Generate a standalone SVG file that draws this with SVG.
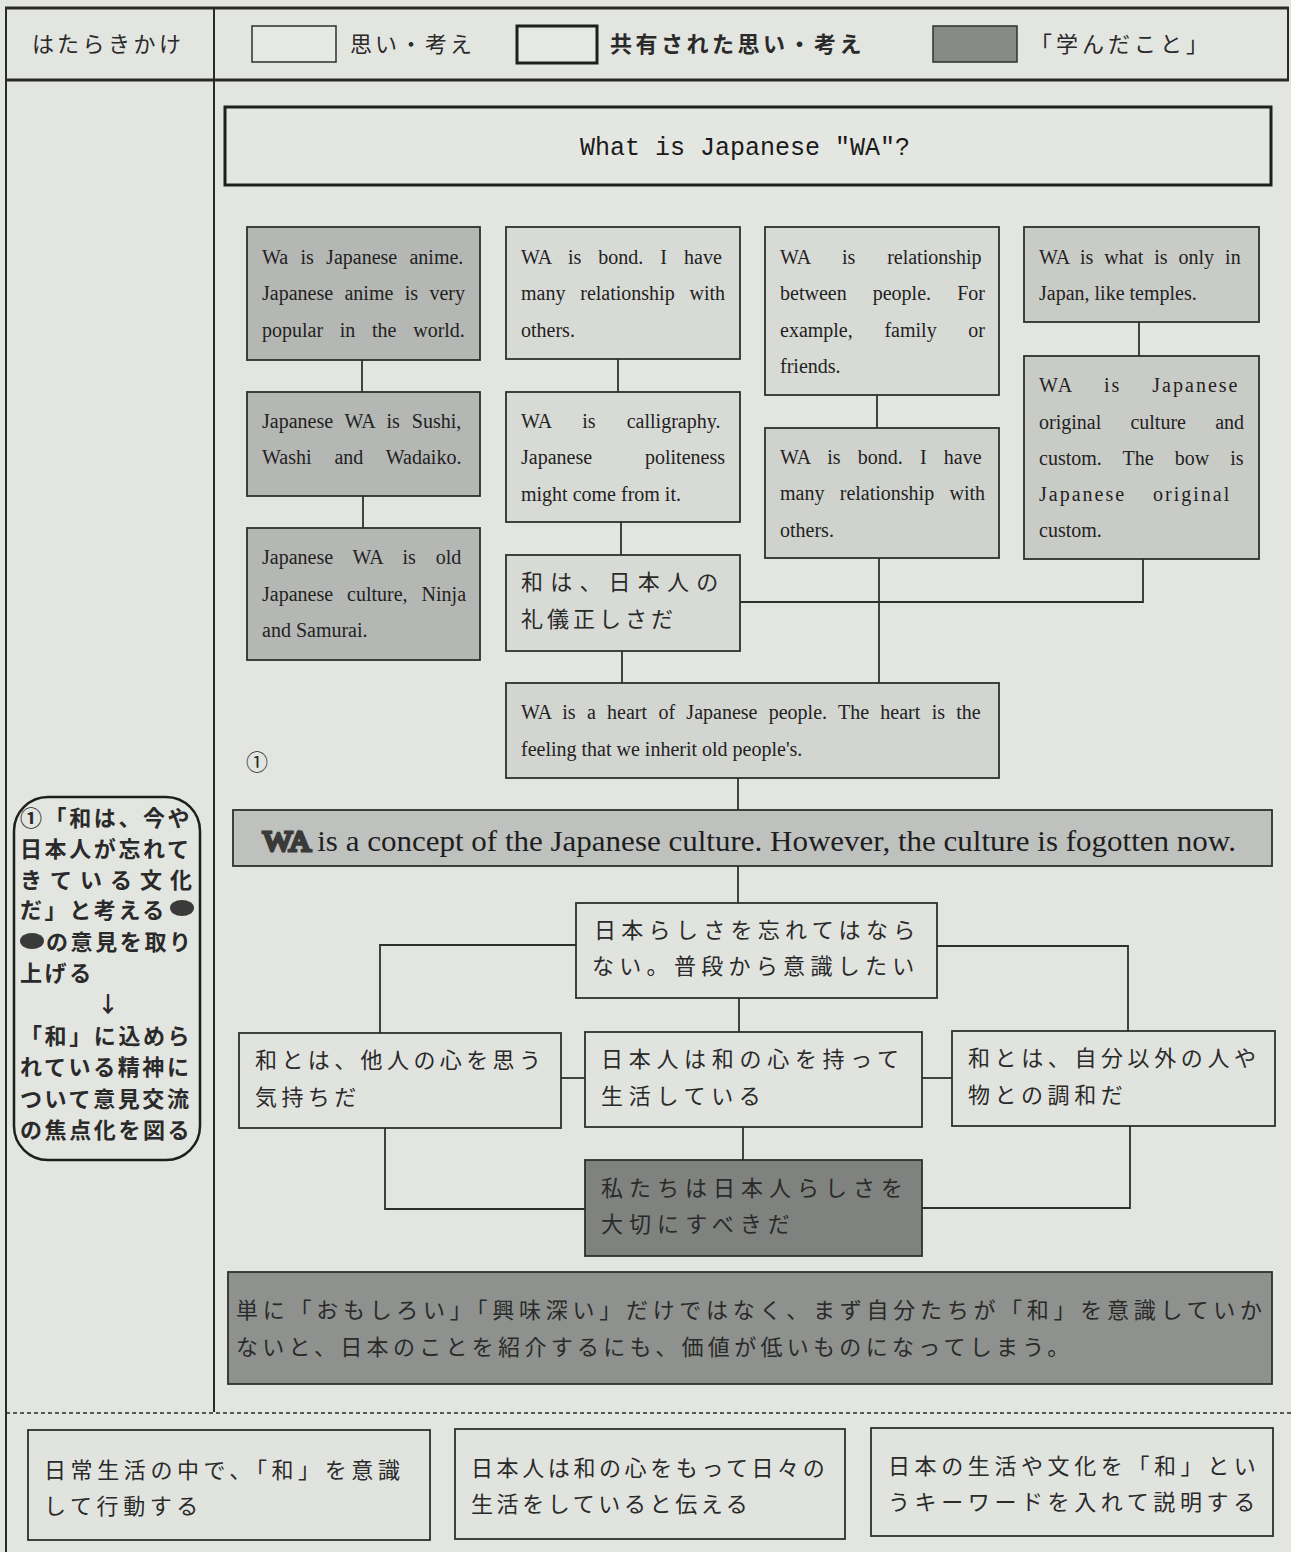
<svg xmlns="http://www.w3.org/2000/svg" width="1291" height="1552" viewBox="0 0 1291 1552">
<style>
.bg{fill:#e3e5e0}
.box{stroke:#2e302e;stroke-width:1.8}
.lt{fill:#d8dad6}
.pl{fill:#e1e3de}
.md{fill:#b5b7b4}
.dl{fill:#c9cbc7}
.dk{fill:#7f827f}
.dj{fill:#8e918e}
.en{font-family:"Liberation Serif","Times New Roman",serif;font-size:20px;fill:#222}
.jp{font-family:"Noto Sans CJK JP","Noto Sans",sans-serif;font-size:22px;fill:#2a2a2a}
.cn{stroke:#2e302e;stroke-width:1.8;fill:none}
</style>
<rect x="0" y="0" width="1291" height="1552" class="bg"/>

<g id="frame" fill="none" stroke="#2a2a2a">
<line x1="5" y1="8" x2="1289" y2="8" stroke-width="3"/>
<line x1="6" y1="8" x2="6" y2="1552" stroke-width="2"/>
<line x1="1288" y1="8" x2="1288" y2="80" stroke-width="2"/>
<line x1="5" y1="80" x2="1289" y2="80" stroke-width="3"/>
<line x1="214" y1="8" x2="214" y2="1412" stroke-width="2"/>
<line x1="6" y1="1413" x2="1291" y2="1413" stroke-width="1.5" stroke-dasharray="4 3"/>
</g>

<g id="legend">
<text class="jp" x="32" y="52" letter-spacing="3.5">はたらきかけ</text>
<rect x="252" y="26" width="84" height="36" fill="#e6e8e3" stroke="#2e302e" stroke-width="1.5"/>
<text class="jp" x="350" y="52" letter-spacing="3">思い・考え</text>
<rect x="517" y="26" width="80" height="37" fill="#e6e8e3" stroke="#1e201e" stroke-width="3"/>
<text class="jp" x="610" y="52" letter-spacing="3.5" font-weight="bold">共有された思い・考え</text>
<rect x="933" y="26" width="84" height="36" fill="#878a87" stroke="#2e302e" stroke-width="1.5"/>
<text class="jp" x="1030" y="52" letter-spacing="4">「学んだこと」</text>
</g>

<g id="side-note">
<rect x="14" y="797" width="186" height="363" rx="34" fill="none" stroke="#1e201e" stroke-width="2.5"/>
<g class="jp" font-weight="bold" letter-spacing="2.6" fill="#1e1e1e">
<text x="20" y="826">①「和は、今や</text>
<text x="20" y="857">日本人が忘れて</text>
<text x="20" y="888" letter-spacing="8">きている文化</text>
<text x="20" y="918">だ」と考える</text>
<text x="46" y="950">の意見を取り</text>
<text x="20" y="981">上げる</text>
<text x="108" y="1012" text-anchor="middle" letter-spacing="0">↓</text>
<text x="20" y="1044">「和」に込めら</text>
<text x="20" y="1075">れている精神に</text>
<text x="20" y="1107">ついて意見交流</text>
<text x="20" y="1138">の焦点化を図る</text>
</g>
<ellipse cx="182" cy="908" rx="12" ry="8" fill="#3a3a3a"/>
<ellipse cx="32" cy="941" rx="12" ry="8" fill="#3a3a3a"/>
</g>

<g id="connectors">
<line class="cn" x1="362" y1="360" x2="362" y2="392"/>
<line class="cn" x1="363" y1="496" x2="363" y2="528"/>
<line class="cn" x1="618" y1="359" x2="618" y2="392"/>
<line class="cn" x1="621" y1="522" x2="621" y2="555"/>
<line class="cn" x1="622" y1="651" x2="622" y2="683"/>
<line class="cn" x1="877" y1="395" x2="877" y2="428"/>
<line class="cn" x1="879" y1="558" x2="879" y2="683"/>
<line class="cn" x1="1139" y1="322" x2="1139" y2="356"/>
<polyline class="cn" points="1143,559 1143,602 740,602"/>
<line class="cn" x1="738" y1="778" x2="738" y2="810"/>
<line class="cn" x1="738" y1="866" x2="738" y2="903"/>
<polyline class="cn" points="576,945 380,945 380,1033"/>
<polyline class="cn" points="937,946 1128,946 1128,1031"/>
<line class="cn" x1="739" y1="998" x2="739" y2="1032"/>
<line class="cn" x1="561" y1="1078" x2="585" y2="1078"/>
<line class="cn" x1="922" y1="1078" x2="952" y2="1078"/>
<line class="cn" x1="743" y1="1127" x2="743" y2="1160"/>
<polyline class="cn" points="385,1128 385,1209 585,1209"/>
<polyline class="cn" points="1130,1126 1130,1208 922,1208"/>
</g>

<g id="title">
<rect x="225" y="107" width="1046" height="78" fill="#e4e6e1" stroke="#1e201e" stroke-width="3"/>
<text x="745" y="155" text-anchor="middle" font-family="'Liberation Mono','DejaVu Sans Mono',monospace" font-size="25" fill="#1a1a1a" textLength="330" lengthAdjust="spacingAndGlyphs">What is Japanese "WA"?</text>
</g>

<g id="n-anime">
<rect class="box md" x="247" y="227" width="233" height="133"/>
<text class="en" x="262" y="264" word-spacing="7.3">Wa is Japanese anime.</text>
<text class="en" x="262" y="300" word-spacing="6.4">Japanese anime is very</text>
<text class="en" x="262" y="337" word-spacing="11.7">popular in the world.</text>
</g>
<g id="n-sushi">
<rect class="box md" x="247" y="392" width="233" height="104"/>
<text class="en" x="262" y="428" word-spacing="6.9">Japanese WA is Sushi,</text>
<text class="en" x="262" y="464" word-spacing="17.9">Washi and Wadaiko.</text>
</g>
<g id="n-ninja">
<rect class="box md" x="247" y="528" width="233" height="132"/>
<text class="en" x="262" y="564" word-spacing="14.9">Japanese WA is old</text>
<text class="en" x="262" y="601" word-spacing="9">Japanese culture, Ninja</text>
<text class="en" x="262" y="637">and Samurai.</text>
</g>

<g id="n-bond1">
<rect class="box lt" x="506" y="227" width="234" height="132"/>
<text class="en" x="521" y="264" word-spacing="12">WA is bond. I have</text>
<text class="en" x="521" y="300" word-spacing="9.8">many relationship with</text>
<text class="en" x="521" y="337">others.</text>
</g>
<g id="n-calli">
<rect class="box lt" x="506" y="392" width="234" height="130"/>
<text class="en" x="521" y="428" word-spacing="26.2">WA is calligraphy.</text>
<text class="en" x="521" y="464" word-spacing="47.9">Japanese politeness</text>
<text class="en" x="521" y="501">might come from it.</text>
</g>
<g id="n-reigi">
<rect class="box lt" x="506" y="555" width="234" height="96"/>
<text class="jp" x="521" y="590" letter-spacing="7.2">和は、日本人の</text>
<text class="jp" x="521" y="627" letter-spacing="4">礼儀正しさだ</text>
</g>

<g id="n-rel">
<rect class="box lt" x="765" y="227" width="234" height="168"/>
<text class="en" x="780" y="264" word-spacing="26.9">WA is relationship</text>
<text class="en" x="780" y="300" word-spacing="21.1">between people. For</text>
<text class="en" x="780" y="337" word-spacing="26.7">example, family or</text>
<text class="en" x="780" y="373">friends.</text>
</g>
<g id="n-bond2">
<rect class="box" fill="#d0d2ce" x="765" y="428" width="234" height="130"/>
<text class="en" x="780" y="464" word-spacing="12.2">WA is bond. I have</text>
<text class="en" x="780" y="500" word-spacing="10.3">many relationship with</text>
<text class="en" x="780" y="537">others.</text>
</g>

<g id="n-temple">
<rect class="box dl" x="1024" y="227" width="235" height="95"/>
<text class="en" x="1039" y="264" word-spacing="6">WA is what is only in</text>
<text class="en" x="1039" y="300">Japan, like temples.</text>
</g>
<g id="n-bow">
<rect class="box dl" x="1024" y="356" width="235" height="203"/>
<text class="en" x="1039" y="392" letter-spacing="2" word-spacing="24">WA is Japanese</text>
<text class="en" x="1039" y="429" word-spacing="24.2">original culture and</text>
<text class="en" x="1039" y="465" word-spacing="16.1">custom. The bow is</text>
<text class="en" x="1039" y="501" letter-spacing="2" word-spacing="20">Japanese original</text>
<text class="en" x="1039" y="537">custom.</text>
</g>

<g id="n-heart">
<rect class="box" fill="#d3d5d1" x="506" y="683" width="493" height="95"/>
<text class="en" x="521" y="719" word-spacing="6.3">WA is a heart of Japanese people. The heart is the</text>
<text class="en" x="521" y="756">feeling that we inherit old people's.</text>
</g>
<text x="246" y="770" font-family="'Liberation Serif','Noto Sans CJK JP',serif" font-size="22" fill="#2a2a2a">①</text>

<g id="n-concept">
<rect class="box" fill="#bfc1be" x="233" y="810" width="1039" height="56"/>
<text x="263" y="851" font-family="'Liberation Serif','Times New Roman',serif" font-size="29" fill="#1e1e1e" textLength="973" lengthAdjust="spacingAndGlyphs"><tspan fill="#3a3a3a" stroke="#3a3a3a" stroke-width="3">WA</tspan> is a concept of the Japanese culture. However, the culture is fogotten now.</text>
</g>

<g id="n-wasure">
<rect class="box pl" x="576" y="903" width="361" height="95"/>
<text class="jp" x="594" y="938" letter-spacing="5.3">日本らしさを忘れてはなら</text>
<text class="jp" x="592" y="974" letter-spacing="5.3">ない。普段から意識したい</text>
</g>
<g id="n-tanin">
<rect class="box pl" x="239" y="1033" width="322" height="95"/>
<text class="jp" x="255" y="1068" letter-spacing="4.4">和とは、他人の心を思う</text>
<text class="jp" x="255" y="1105" letter-spacing="4.4">気持ちだ</text>
</g>
<g id="n-kokoro">
<rect class="box pl" x="585" y="1032" width="337" height="95"/>
<text class="jp" x="601" y="1067" letter-spacing="5.7">日本人は和の心を持って</text>
<text class="jp" x="601" y="1104" letter-spacing="5.7">生活している</text>
</g>
<g id="n-chowa">
<rect class="box pl" x="952" y="1031" width="323" height="95"/>
<text class="jp" x="968" y="1066" letter-spacing="4.6">和とは、自分以外の人や</text>
<text class="jp" x="968" y="1103" letter-spacing="4.6">物との調和だ</text>
</g>
<g id="n-taisetsu">
<rect class="box dk" x="585" y="1160" width="337" height="96"/>
<text class="jp" x="601" y="1196" letter-spacing="6" fill="#2e2e2e">私たちは日本人らしさを</text>
<text class="jp" x="601" y="1232" letter-spacing="6" fill="#2e2e2e">大切にすべきだ</text>
</g>

<g id="n-manabi">
<rect class="box dj" x="228" y="1272" width="1044" height="112"/>
<text class="jp" x="236" y="1318" textLength="1026" fill="#262626">単に「おもしろい」「興味深い」だけではなく、まず自分たちが「和」を意識していか</text>
<text class="jp" x="236" y="1355" letter-spacing="4.3" fill="#262626">ないと、日本のことを紹介するにも、価値が低いものになってしまう。</text>
</g>

<g id="n-act1">
<rect class="box pl" x="28" y="1430" width="402" height="110"/>
<text class="jp" x="44" y="1478" letter-spacing="4.6">日常生活の中で、「和」を意識</text>
<text class="jp" x="44" y="1514" letter-spacing="4.6">して行動する</text>
</g>
<g id="n-act2">
<rect class="box pl" x="455" y="1429" width="390" height="110"/>
<text class="jp" x="471" y="1476" letter-spacing="3.6">日本人は和の心をもって日々の</text>
<text class="jp" x="471" y="1512" letter-spacing="3.6">生活をしていると伝える</text>
</g>
<g id="n-act3">
<rect class="box pl" x="871" y="1428" width="402" height="108"/>
<text class="jp" x="888" y="1474" letter-spacing="4.6">日本の生活や文化を「和」とい</text>
<text class="jp" x="888" y="1510" letter-spacing="4.6">うキーワードを入れて説明する</text>
</g>
</svg>
